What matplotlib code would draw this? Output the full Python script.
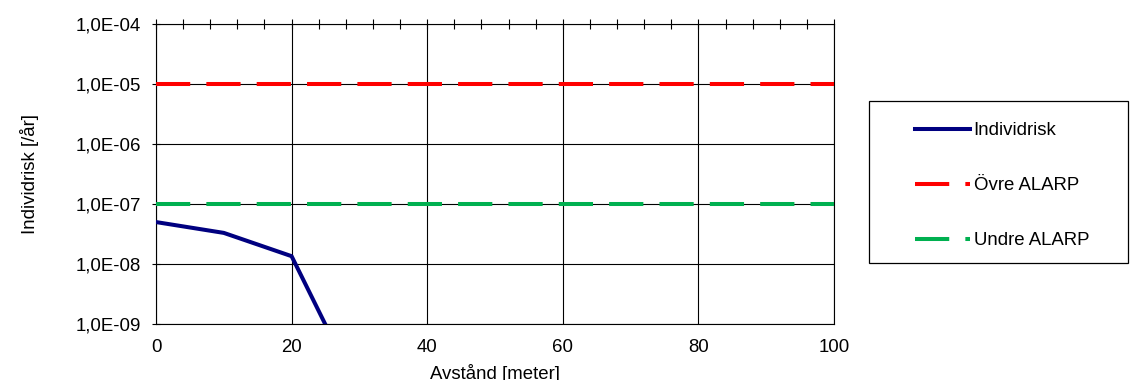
import matplotlib
matplotlib.use("Agg")
import matplotlib.pyplot as plt
from matplotlib.patches import Rectangle
from matplotlib.ticker import FixedLocator, MultipleLocator, NullLocator

plt.rcParams['font.family'] = ['Liberation Sans', 'DejaVu Sans']
plt.rcParams['font.size'] = 13.4

# data
avstand = [0, 10, 20, 30]
individrisk = [5.0e-8, 3.3e-8, 1.35e-8, 7e-11]
grans_x = [0, 100]
ovre_alarp = [1e-5, 1e-5]
undre_alarp = [1e-7, 1e-7]

y_ticks = [1e-9, 1e-8, 1e-7, 1e-6, 1e-5, 1e-4]
y_ticklabels = ["1,0E-09", "1,0E-08", "1,0E-07", "1,0E-06", "1,0E-05", "1,0E-04"]
x_ticks = [0, 20, 40, 60, 80, 100]

fig = plt.figure(figsize=(11.3, 3.8), dpi=100)
ax = fig.add_axes([156 / 1130, 56 / 380, 678 / 1130, 300 / 380])

lw = 2.9
ax.plot(avstand, individrisk, color="#000080", lw=lw, label="Individrisk", zorder=4)
ax.plot(grans_x, ovre_alarp, color="#FF0000", lw=lw, dashes=(8.5, 4), label="Övre ALARP", zorder=3)
ax.plot(grans_x, undre_alarp, color="#00B050", lw=lw, dashes=(8.5, 4), label="Undre ALARP", zorder=3)

ax.set_yscale("log")
ax.set_ylim(1e-9, 1e-4)
ax.set_xlim(0, 100)
ax.yaxis.set_major_locator(FixedLocator(y_ticks))
ax.yaxis.set_minor_locator(NullLocator())
ax.set_yticklabels(y_ticklabels)
ax.set_xticks(x_ticks)
ax.xaxis.set_minor_locator(MultipleLocator(4))

ax.grid(True, which="major", color="black", lw=0.8)
for s in ax.spines.values():
    s.set_color("black")
    s.set_linewidth(0.8)

ax.tick_params(axis="y", direction="inout", length=6, width=0.8, pad=8)
ax.tick_params(axis="x", which="both", bottom=False, top=True, direction="inout",
               length=7, width=0.8, pad=7)
ax.tick_params(axis="x", which="minor", length=7)

ax.set_xlabel("Avstånd [meter]", labelpad=6)
ax.set_ylabel("Individrisk [/år]", labelpad=26)

fig.patches.append(Rectangle((869 / 1130, 1 - 263 / 380), 259 / 1130, 162 / 380,
                             transform=fig.transFigure, fill=False, edgecolor="black", lw=0.9))
fig.legend(loc="upper left", bbox_to_anchor=(915 / 1130, 1 - 122 / 380), frameon=False,
           borderpad=0, borderaxespad=0, handlelength=2.95, handletextpad=0.2,
           labelspacing=2.05)

fig.savefig("out.png", dpi=100)
